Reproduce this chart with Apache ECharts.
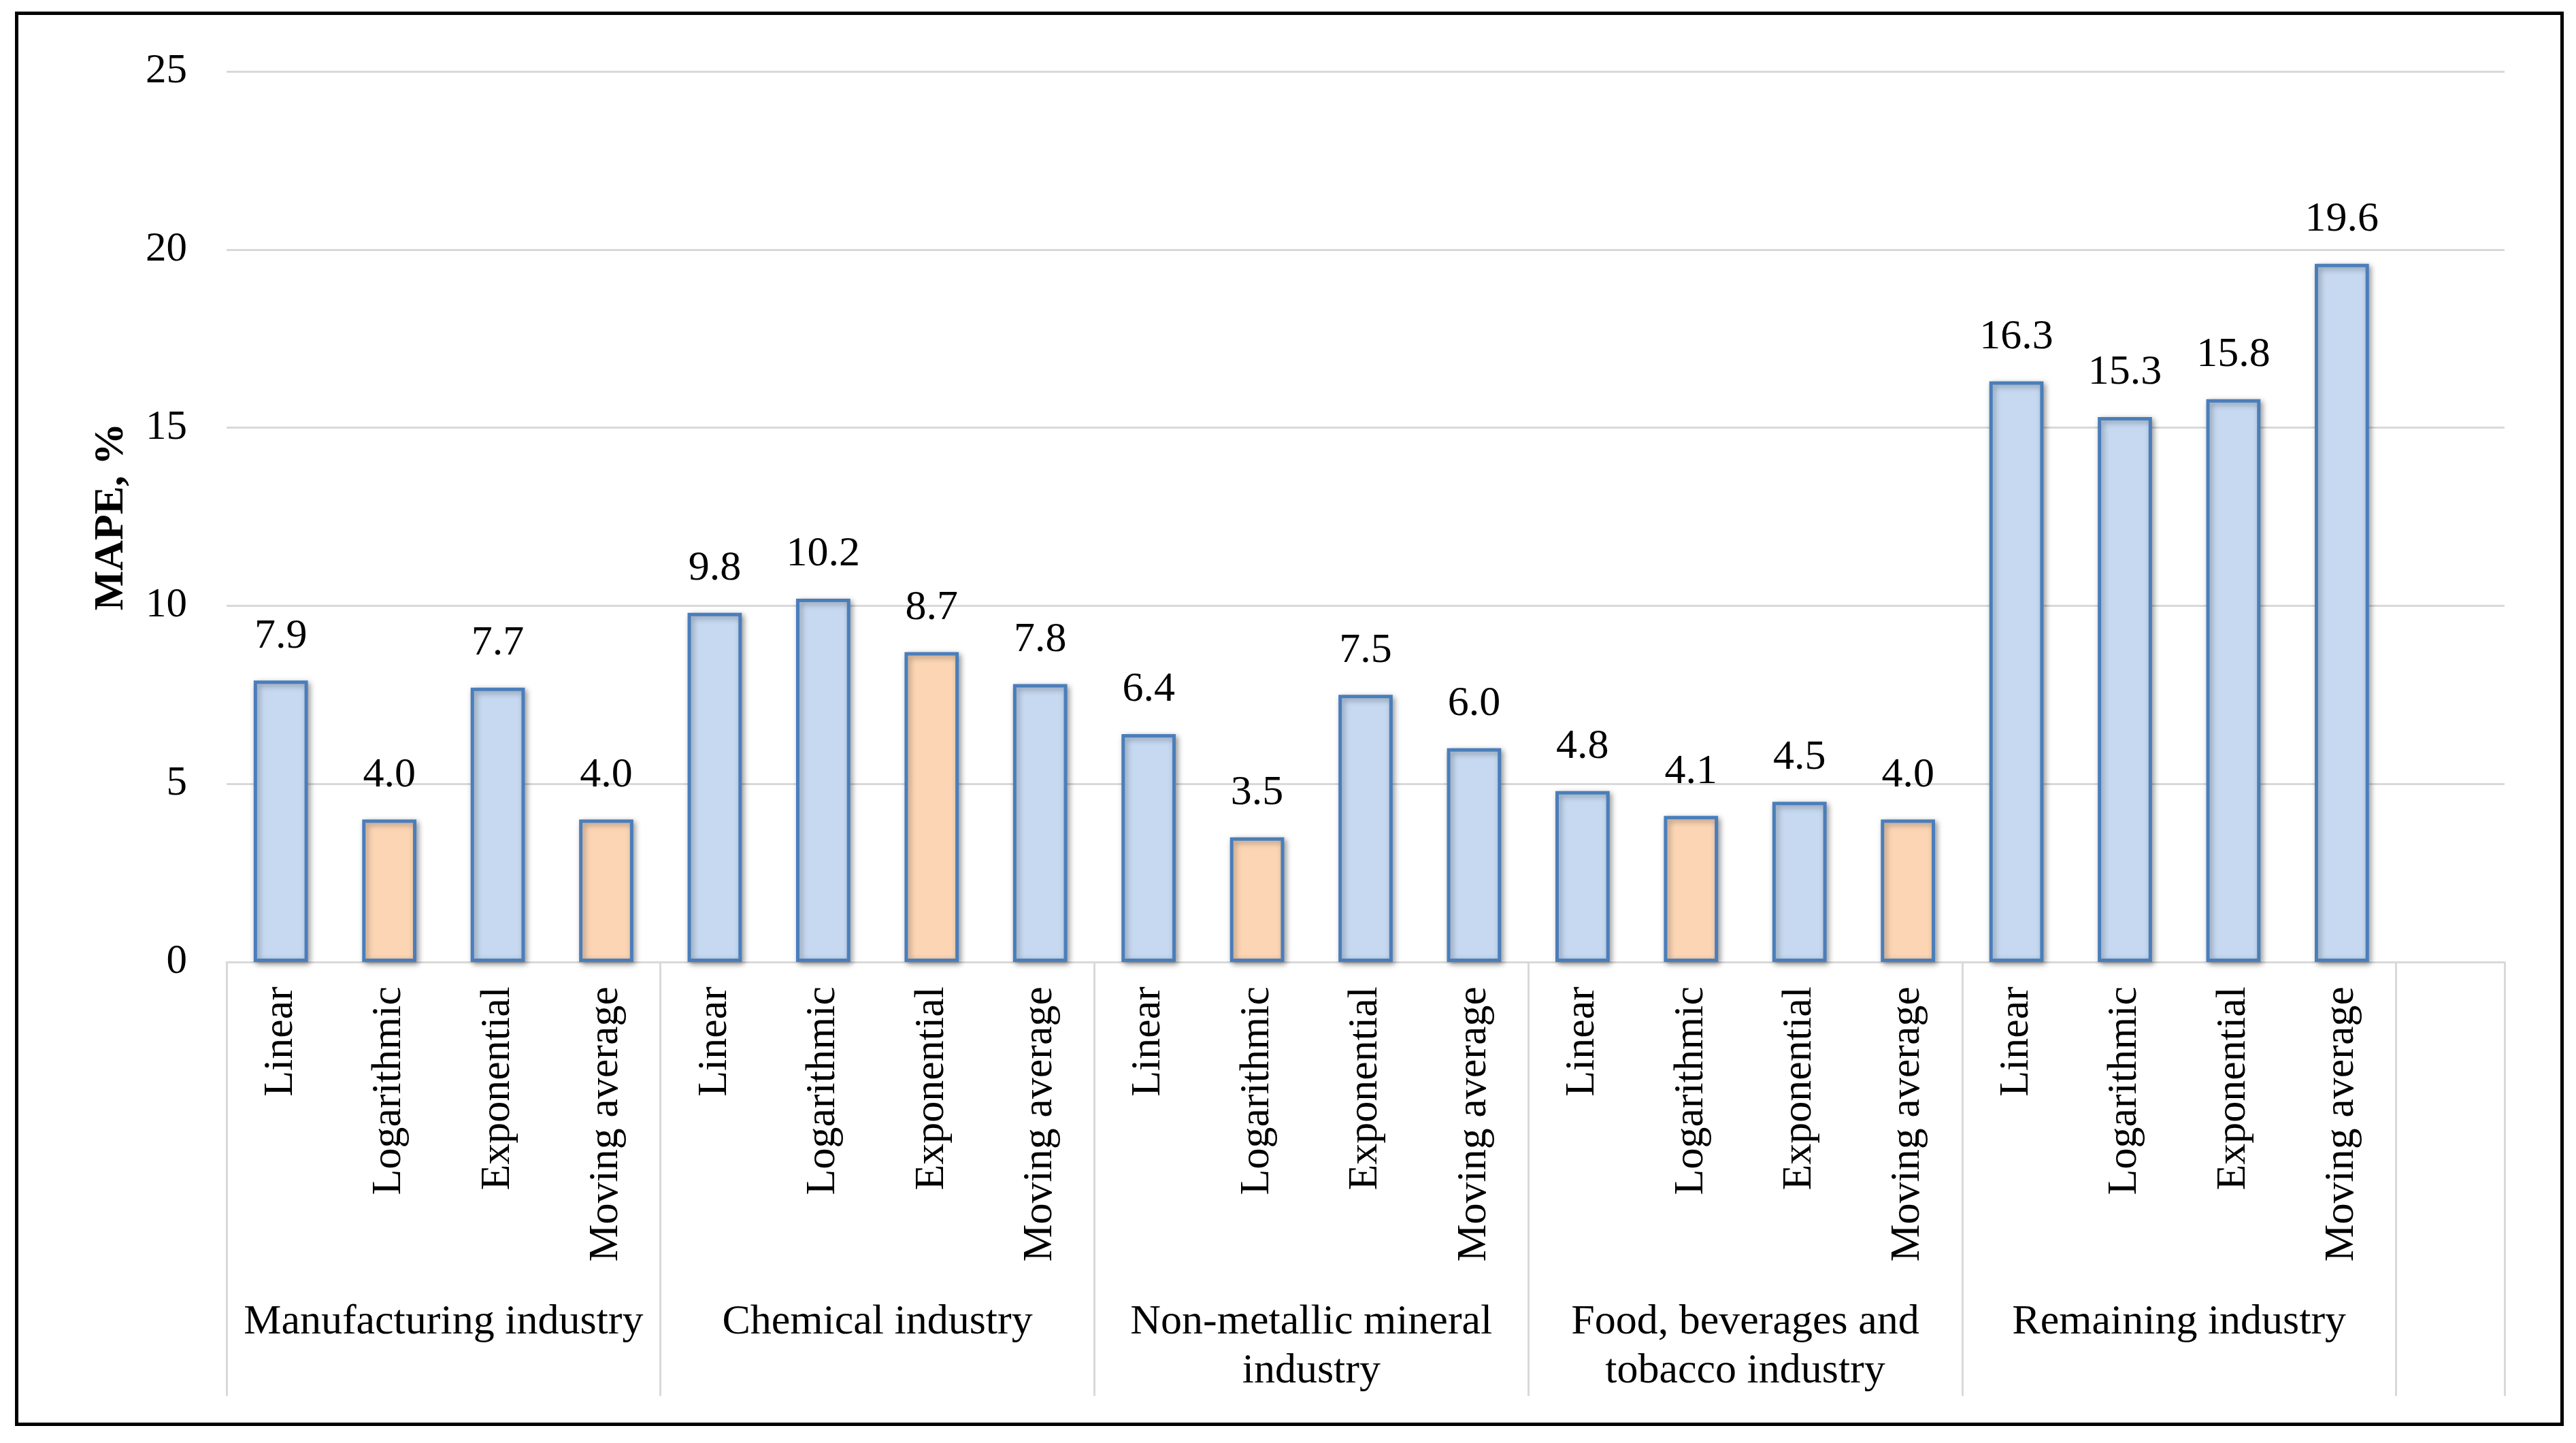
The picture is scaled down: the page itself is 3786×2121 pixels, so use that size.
<!DOCTYPE html>
<html>
<head>
<meta charset="utf-8">
<script src="https://cdn.jsdelivr.net/npm/echarts@6/dist/echarts.min.js"></script>
<style>
html,body{margin:0;padding:0;background:#fff;}
#chart{width:3786px;height:2121px;}
</style>
</head>
<body>
<div id="chart"></div>
<script>
// ---- data ----
const groups = ['Manufacturing industry', 'Chemical industry', 'Non-metallic mineral\nindustry', 'Food, beverages and\ntobacco industry', 'Remaining industry'];
const methods = ['Linear', 'Logarithmic', 'Exponential', 'Moving average'];
const manufacturing = [7.9, 4.0, 7.7, 4.0];
const chemical = [9.8, 10.2, 8.7, 7.8];
const nonMetallic = [6.4, 3.5, 7.5, 6.0];
const food = [4.8, 4.1, 4.5, 4.0];
const remaining = [16.3, 15.3, 15.8, 19.6];
// 1 = highlighted (orange) bar
const highlighted = [[0, 1, 0, 1], [0, 0, 1, 0], [0, 1, 0, 0], [0, 1, 0, 1], [0, 0, 0, 0]];
const yMin = 0, yMax = 25, yStep = 5;

// ---- build ----
const groupValues = [manufacturing, chemical, nonMetallic, food, remaining];
const categories = [];
const barData = [];
const groupCenters = {};
const BLUE = '#C6D9F1', ORANGE = '#FCD5B4', EDGE = '#4A7EBB';
groupValues.forEach((vals, g) => {
  groupCenters[g * methods.length + methods.length / 2] = groups[g];
  vals.forEach((v, m) => {
    categories.push(methods[m]);
    barData.push({
      value: v,
      itemStyle: { color: highlighted[g][m] ? ORANGE : BLUE }
    });
  });
});
categories.push(''); // trailing empty slot
barData.push(null);
const nCat = categories.length;

const chart = echarts.init(document.getElementById('chart'));
const FONT = "'Liberation Serif', 'Times New Roman', serif";
chart.setOption({
  backgroundColor: '#fff',
  animation: false,
  textStyle: { fontFamily: FONT },
  grid: { left: 333, right: 105, top: 105, bottom: 707 },
  graphic: [{
    type: 'rect', left: 22, top: 17, z: 100, silent: true,
    shape: { width: 3741, height: 2074 },
    style: { fill: 'none', stroke: '#000', lineWidth: 5 }
  }],
  xAxis: [
    {
      type: 'category', data: categories, position: 'bottom',
      axisLine: { show: true, lineStyle: { color: '#D9D9D9', width: 3 } },
      axisTick: { show: false },
      axisLabel: { rotate: 90, margin: 36, interval: 0, fontFamily: FONT, fontSize: 62, color: '#000' },
      splitLine: { show: false }
    },
    {
      type: 'category', data: categories, position: 'bottom',
      axisLine: { show: false },
      axisLabel: { show: false },
      axisTick: {
        show: true, length: 638,
        interval: (idx) => idx % methods.length === 0,
        lineStyle: { color: '#D9D9D9', width: 3 }
      },
      splitLine: { show: false }
    },
    {
      type: 'value', min: 0, max: nCat, interval: 2, position: 'bottom',
      axisLine: { show: false }, axisTick: { show: false }, splitLine: { show: false },
      axisLabel: {
        margin: 494, fontFamily: FONT, fontSize: 62, lineHeight: 72, color: '#000', align: 'center',
        showMinLabel: false, showMaxLabel: false,
        formatter: (v) => groupCenters[v] || ''
      }
    }
  ],
  yAxis: {
    type: 'value', min: yMin, max: yMax, interval: yStep,
    name: 'MAPE, %', nameLocation: 'middle', nameRotate: 90, nameGap: 138,
    nameTextStyle: { fontFamily: FONT, fontSize: 62, fontWeight: 'bold', color: '#000' },
    axisLine: { show: false }, axisTick: { show: false },
    axisLabel: { margin: 58, fontFamily: FONT, fontSize: 61, color: '#000' },
    splitLine: { lineStyle: { color: '#D9D9D9', width: 3 } }
  },
  series: [{
    type: 'bar', xAxisIndex: 0, yAxisIndex: 0,
    data: barData, barWidth: '50%',
    itemStyle: {
      borderColor: EDGE, borderWidth: 5,
      shadowBlur: 8, shadowColor: 'rgba(0,0,0,0.35)', shadowOffsetX: 3, shadowOffsetY: 3
    },
    label: {
      show: true, position: 'top', distance: 34,
      fontFamily: FONT, fontSize: 62, color: '#000',
      formatter: (p) => p.value == null ? '' : Number(p.value).toFixed(1)
    }
  }]
});
</script>
</body>
</html>
